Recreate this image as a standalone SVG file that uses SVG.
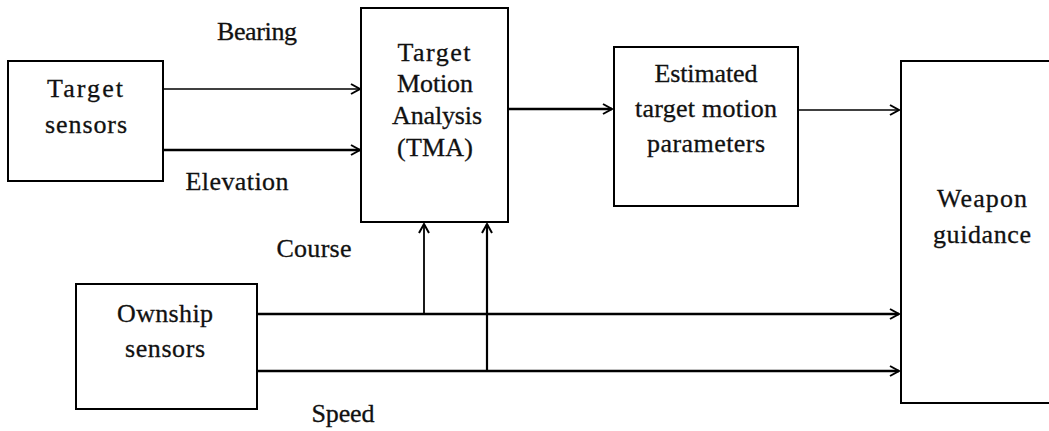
<svg xmlns="http://www.w3.org/2000/svg" width="1049" height="431" viewBox="0 0 1049 431">
<style>
.box{fill:#fff;stroke:#000;stroke-width:2}
.t{font-family:"Liberation Serif","Times New Roman",serif;font-size:26px;fill:#111;stroke:#111;stroke-width:0.3;text-anchor:middle}
.ln{fill:none;stroke:#000}
.thin{stroke-width:1.5}
.thick{stroke-width:2.5}
</style>
<defs>
<marker id="ah" markerUnits="userSpaceOnUse" markerWidth="14" markerHeight="14" refX="10" refY="6" orient="auto">
<path d="M1,1 L10,6 L1,11" fill="none" stroke="#000" stroke-width="2"/>
</marker>
</defs>
<rect width="1049" height="431" fill="#fff"/>
<g id="connectors">
<line class="ln thin" x1="163" y1="89" x2="360" y2="89" marker-end="url(#ah)"/>
<line class="ln thick" x1="163" y1="150" x2="360" y2="150" marker-end="url(#ah)"/>
<line class="ln thick" x1="508" y1="109" x2="612" y2="109" marker-end="url(#ah)"/>
<line class="ln thin" x1="798" y1="110" x2="899" y2="110" marker-end="url(#ah)"/>
<line class="ln thick" x1="257" y1="314" x2="899" y2="314" marker-end="url(#ah)"/>
<line class="ln thick" x1="257" y1="371" x2="899" y2="371" marker-end="url(#ah)"/>
<line class="ln" stroke-width="1.8" x1="424" y1="314" x2="424" y2="224" marker-end="url(#ah)"/>
<line class="ln" stroke-width="2.2" x1="487" y1="371" x2="487" y2="224" marker-end="url(#ah)"/>
<text class="t" x="257" y="40" textLength="80">Bearing</text>
<text class="t" x="237" y="190" textLength="103">Elevation</text>
<text class="t" x="314" y="257" textLength="75">Course</text>
<text class="t" x="343" y="422" textLength="63">Speed</text>
</g>
<g id="target-sensors">
<rect class="box" x="8" y="61" width="155" height="120"/>
<text class="t" x="85" y="97" textLength="76">Target</text>
<text class="t" x="86" y="133" textLength="82">sensors</text>
</g>
<g id="tma">
<rect class="box" x="361" y="8" width="147" height="214"/>
<text class="t" x="434" y="61" textLength="73">Target</text>
<text class="t" x="435" y="92" textLength="76">Motion</text>
<text class="t" x="437" y="124" textLength="90">Analysis</text>
<text class="t" x="435" y="156" textLength="76">(TMA)</text>
</g>
<g id="estimated">
<rect class="box" x="614" y="47" width="184" height="159"/>
<text class="t" x="706" y="82" textLength="103">Estimated</text>
<text class="t" x="706" y="117" textLength="142">target motion</text>
<text class="t" x="706" y="152" textLength="118">parameters</text>
</g>
<g id="weapon">
<path class="ln" stroke-width="2" d="M1052,61 L901,61 L901,403 L1052,403"/>
<text class="t" x="982" y="207" textLength="90">Weapon</text>
<text class="t" x="982" y="243" textLength="98">guidance</text>
</g>
<g id="ownship-sensors">
<rect class="box" x="76" y="284" width="181" height="125"/>
<text class="t" x="165" y="322" textLength="96">Ownship</text>
<text class="t" x="165" y="357" textLength="80">sensors</text>
</g>
</svg>
